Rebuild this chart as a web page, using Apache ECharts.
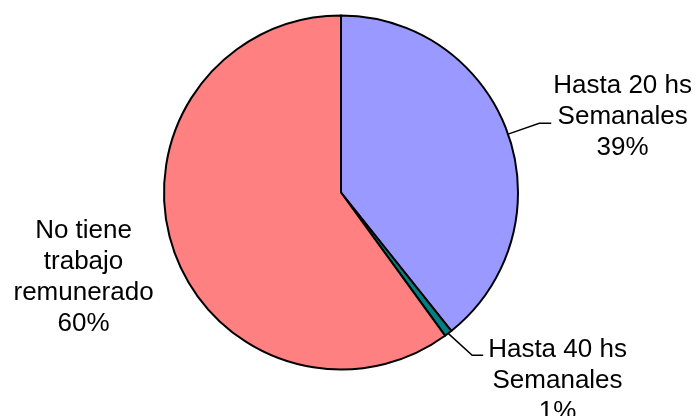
<!DOCTYPE html>
<html>
<head>
<meta charset="utf-8">
<script src="https://cdn.jsdelivr.net/npm/echarts@6/dist/echarts.min.js"></script>
<style>
html,body{margin:0;padding:0;background:#fff;}
#chart{width:697px;height:416px;}
</style>
</head>
<body>
<div id="chart"></div>
<script>
const categories = ['Hasta 20 hs\nSemanales', 'Hasta 40 hs\nSemanales', 'No tiene\ntrabajo\nremunerado'];
const values = [39.3, 0.7, 60.0];
const colors = ['#9999FF', '#008080', '#FF8080'];

const chart = echarts.init(document.getElementById('chart'), null, {renderer: 'canvas'});

const lineCfg = [
  {length: 33, length2: 12, show: true},
  {length: 30, length2: 11, show: true},
  {length: 0, length2: 15, show: false}
];

const data = categories.map((c, i) => ({
  name: c,
  value: values[i],
  itemStyle: {color: colors[i]},
  labelLine: {show: lineCfg[i].show, length: lineCfg[i].length, length2: lineCfg[i].length2, smooth: false,
    lineStyle: {color: '#000', width: 1.5}}
}));

chart.setOption({
  animation: false,
  backgroundColor: '#ffffff',
  series: [{
    type: 'pie',
    center: [341, 192.5],
    radius: 177,
    startAngle: 90,
    clockwise: true,
    percentPrecision: 0,
    avoidLabelOverlap: false,
    itemStyle: {borderColor: '#000', borderWidth: 2},
    label: {
      show: true,
      position: 'outside',
      formatter: '{b}\n{d}%',
      fontFamily: '"Liberation Sans", Arial, sans-serif',
      fontSize: 26,
      lineHeight: 31,
      color: '#000',
      alignTo: 'none'
    },
    labelLine: {show: true},
    labelLayout: function (p) {
      let pts = p.labelLinePoints;
      const w = p.labelRect.width;
      const h = p.labelRect.height;
      let x, y;
      if (p.dataIndex === 0) {
        const end = pts[2];
        x = end[0] + w / 2 + 2;
        y = end[1] - 6;
      } else if (p.dataIndex === 1) {
        const s = pts[0];
        const b = [s[0] + 24, s[1] + 22];
        const e = [b[0] + 11, b[1]];
        pts = [s, b, e];
        x = e[0] + w / 2 + 5;
        y = e[1] - 21 + h / 2;
      } else {
        const end = pts[2];
        x = end[0] - w / 2 - 4;
        y = end[1] + 30;
      }
      return {x: x, y: y, align: 'center', verticalAlign: 'middle', labelLinePoints: pts};
    },
    data: data
  }]
});
</script>
</body>
</html>
